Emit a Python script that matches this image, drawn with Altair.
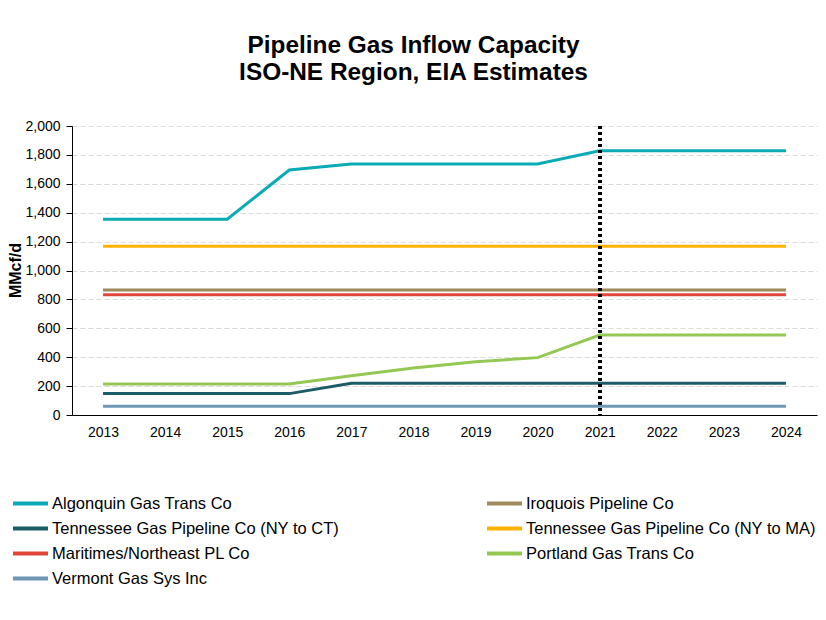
import altair as alt
import pandas as pd

years = list(range(2013, 2025))

series_names = [
    "Algonquin Gas Trans Co",
    "Tennessee Gas Pipeline Co (NY to CT)",
    "Maritimes/Northeast PL Co",
    "Vermont Gas Sys Inc",
    "Iroquois Pipeline Co",
    "Tennessee Gas Pipeline Co (NY to MA)",
    "Portland Gas Trans Co",
]
series_colors = ["#0AABB4", "#1C5C68", "#E0473A", "#6F97B3", "#9E8A5B", "#FFB100", "#93C853"]

algonquin = [1355, 1355, 1355, 1695, 1737, 1737, 1737, 1737, 1828, 1828, 1828, 1828]
tennessee_ct = [148, 148, 148, 148, 219, 219, 219, 219, 219, 219, 219, 219]
maritimes = [833] * 12
vermont = [60] * 12
iroquois = [865] * 12
tennessee_ma = [1167] * 12
portland = [214, 214, 214, 214, 272, 325, 369, 397, 553, 553, 553, 553]

all_values = [algonquin, tennessee_ct, maritimes, vermont, iroquois, tennessee_ma, portland]
marker_year = 2021

rows = []
for name, vals in zip(series_names, all_values):
    for y, v in zip(years, vals):
        rows.append({"year": y, "series": name, "value": v})
df = pd.DataFrame(rows)

FONT = "Liberation Sans"

lines = alt.Chart(df).mark_line(strokeWidth=3).encode(
    x=alt.X("year:O", title=None,
            scale=alt.Scale(type="point", padding=0.5),
            axis=alt.Axis(labelAngle=0, ticks=False, labelFontSize=14, labelPadding=10,
                          domainColor="black", labelColor="black", grid=False)),
    y=alt.Y("value:Q", title="MMcf/d",
            scale=alt.Scale(domain=[0, 2000]),
            axis=alt.Axis(values=list(range(0, 2001, 200)), format=",d", labelFontSize=14,
                          tickSize=6, labelPadding=6, tickColor="black", domainColor="black",
                          labelColor="black", gridColor="#D9D9D9", gridDash=[5, 3],
                          titleFontSize=16, titleFontWeight="bold", titleColor="black",
                          titleX=-57, titleY=144, titleAngle=270, titleBaseline="middle",
                          titleAlign="center")),
    color=alt.Color("series:N",
                    scale=alt.Scale(domain=series_names, range=series_colors),
                    legend=alt.Legend(title=None, orient="none", legendX=-61, legendY=365,
                                      columns=2, columnPadding=145, rowPadding=0,
                                      clipHeight=25,
                                      symbolType="stroke", symbolStrokeWidth=4,
                                      symbolSize=1225, labelFontSize=16.5, labelOffset=2,
                                      labelColor="black", labelLimit=400)),
)

rule = alt.Chart(df).mark_rule(strokeDash=[3, 3], strokeWidth=3, color="black").encode(
    x=alt.X(datum=marker_year, type="ordinal")
)

chart = alt.layer(lines, rule).properties(
    width=745,
    height=289,
    autosize=alt.AutoSizeParams(type="none"),
    padding={"left": 64, "top": 118, "right": 1, "bottom": 197},
    title=alt.TitleParams(
        text=["Pipeline Gas Inflow Capacity", "ISO-NE Region, EIA Estimates"],
        fontSize=24.4, fontWeight="bold", font=FONT, color="black",
        anchor="middle", frame="group", dx=-31, offset=34, lineHeight=27,
    ),
).configure(font=FONT).configure_view(stroke=None)

chart.save("out.html", embed_options={"renderer": "svg", "actions": False})
